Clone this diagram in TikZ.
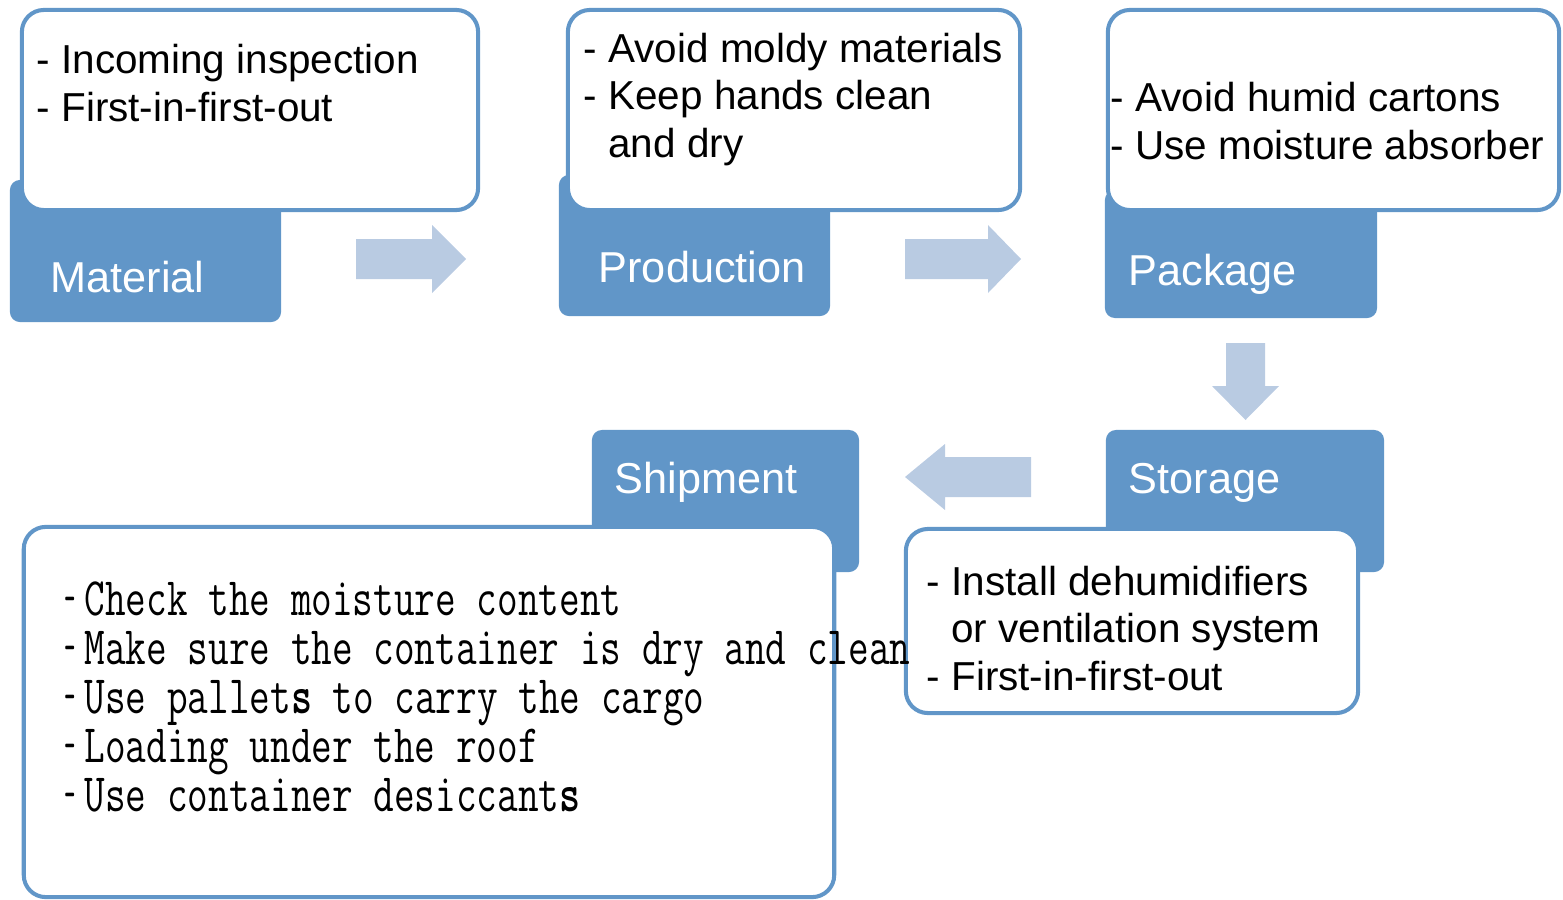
\documentclass[tikz,border=0pt]{standalone}
\usepackage{fontspec}
\setmainfont{Liberation Sans}
\usepackage{graphicx}

\definecolor{tabblue}{HTML}{6196C8}
\definecolor{arrowblue}{HTML}{B9CBE2}

\newcommand{\tallline}[1]{\smash{\scalebox{1}[1.35]{\makebox[0.72em][c]{\scalebox{0.55}[1]{-}}#1}}}

\begin{document}
\begin{tikzpicture}[x=0.01cm, y=-0.01cm,
    tab/.style={fill=tabblue, rounded corners=0.1cm, inner sep=0},
    infobox/.style={draw=tabblue, line width=1.15pt, fill=white, rounded corners=0.22cm, inner sep=0},
    tablabel/.style={anchor=base west, inner sep=0, text=white, font=\fontsize{12.3}{14}\selectfont},
    infotext/.style={anchor=base west, inner sep=0, align=left, font=\fontsize{11.5}{13.45}\selectfont},
    monotext/.style={anchor=base west, inner sep=0, align=left, font=\ttfamily\fontsize{11.4}{13.9}\selectfont},
    flow/.style={fill=arrowblue}]

    \useasboundingbox (0,0) rectangle (1563,900);

    % Tabs
    \node[tab, minimum width=2.71cm, minimum height=1.42cm] (mattab) at (145.5,251) {};
    \node[tab, minimum width=2.71cm, minimum height=1.41cm] (prodtab) at (694.5,245.5) {};
    \node[tab, minimum width=2.72cm, minimum height=1.28cm] (packtab) at (1241,254) {};
    \node[tab, minimum width=2.78cm, minimum height=1.42cm] (stortab) at (1245,501) {};
    \node[tab, minimum width=2.67cm, minimum height=1.42cm] (shiptab) at (725.5,501) {};

    % Boxes
    \node[infobox, minimum width=4.56cm, minimum height=2.00cm] (matinfo) at (250,110) {};
    \node[infobox, minimum width=4.52cm, minimum height=2.00cm] (prodinfo) at (794,110) {};
    \node[infobox, minimum width=4.51cm, minimum height=2.00cm] (packinfo) at (1333.5,110) {};
    \node[infobox, minimum width=4.52cm, minimum height=1.84cm] (storinfo) at (1132,621) {};
    \node[infobox, minimum width=8.10cm, minimum height=3.70cm] (shipinfo) at (429,712) {};

    % Labels
    \node[tablabel] (matlabel) at (50,292) {Material};
    \node[tablabel] (prodlabel) at (598,282) {Production};
    \node[tablabel] (packlabel) at (1128,285) {Package};
    \node[tablabel] (storlabel) at (1128,493) {Storage};
    \node[tablabel] (shiplabel) at (614,493) {Shipment};

    % Texts (base = last line)
    \node[infotext] (mattext) at (36,121) {- Incoming inspection\\- First-in-first-out};
    \node[infotext] (prodtext) at (583,157) {- Avoid moldy materials\\- Keep hands clean\\\phantom{- }and dry};
    \node[infotext] (packtext) at (1110,159) {- Avoid humid cartons\\- Use moisture absorber};
    \node[infotext] (stortext) at (926,690) {- Install dehumidifiers\\\phantom{- }or ventilation system\\- First-in-first-out};
    \node[monotext] (shiptext) at (55,811) {\tallline{Check the moisture content}\\
        \tallline{Make sure the container is dry and clean}\\
        \tallline{Use pallet\textbf{s} to carry the cargo}\\
        \tallline{Loading under the roof}\\
        \tallline{Use container desiccant\textbf{s}}};

    % Arrows
    \fill[flow] (356,239) -- (432,239) -- (432,225) -- (466,259) -- (432,293) -- (432,279) -- (356,279) -- cycle;
    \fill[flow] (905,239) -- (988,239) -- (988,225) -- (1021,259) -- (988,293) -- (988,279) -- (905,279) -- cycle;
    \fill[flow] (1226,343) -- (1226,386) -- (1212,386) -- (1245.5,420) -- (1279,386) -- (1265,386) -- (1265,343) -- cycle;
    \fill[flow] (1031,457) -- (945,457) -- (945,444) -- (905,477) -- (945,510) -- (945,497) -- (1031,497) -- cycle;

\end{tikzpicture}
\end{document}
